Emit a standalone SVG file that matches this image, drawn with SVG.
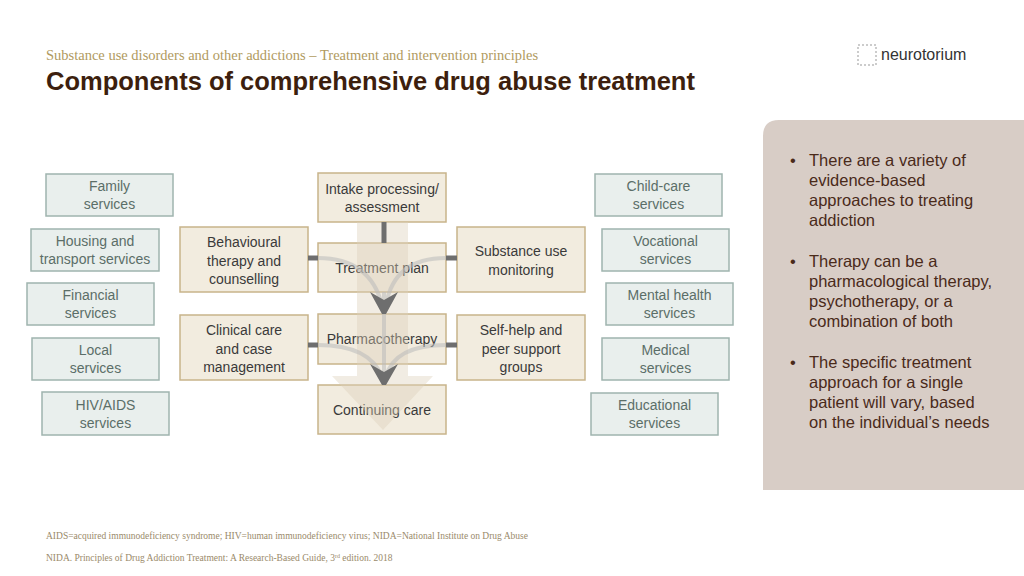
<svg xmlns="http://www.w3.org/2000/svg" width="1024" height="576" viewBox="0 0 1024 576">
<style>
.t{font-family:"Liberation Sans",Arial,sans-serif;fill:#3a3a3a;font-size:14px;text-anchor:middle}
.c rect{fill:#f2ecdf;stroke:#c8b48a;stroke-width:1.5}
.o rect{fill:#e9efed;stroke:#9fb4ae;stroke-width:1.5}
.o text{fill:#5b6e68}
.b{font-family:"Liberation Sans",Arial,sans-serif;fill:#4a2a1a;font-size:16.5px}
</style>
<rect width="1024" height="576" fill="#fff"/>
<text x="46" y="60" font-family="Liberation Serif,serif" font-size="14.5" fill="#b09a60">Substance use disorders and other addictions – Treatment and intervention  principles</text>
<text x="46" y="90" font-family="Liberation Sans,Arial,sans-serif" font-size="25.5" font-weight="bold" fill="#3d1f0e">Components of comprehensive drug abuse treatment</text>
<g id="logo"><rect x="858" y="45" width="18" height="20" fill="none" stroke="#999" stroke-dasharray="2 2"/><text x="881" y="60" font-family="Liberation Sans,Arial,sans-serif" font-size="16" fill="#333">neurotorium</text></g>
<path d="M763 120 H1024 V490 H763 V136 Q763 120 779 120 Z" fill="#d8cdc6"/>
<g class="b">
<text x="790" y="166">•</text><text x="809" y="166">There are a variety of</text><text x="809" y="186">evidence-based</text><text x="809" y="206">approaches to treating</text><text x="809" y="226">addiction</text>
<text x="790" y="267">•</text><text x="809" y="267">Therapy can be a</text><text x="809" y="287">pharmacological therapy,</text><text x="809" y="307">psychotherapy, or a</text><text x="809" y="327">combination of both</text>
<text x="790" y="368">•</text><text x="809" y="368">The specific treatment</text><text x="809" y="388">approach for a single</text><text x="809" y="408">patient will vary, based</text><text x="809" y="428">on the individual’s needs</text>
</g>
<g id="outer-left" class="o">
<g id="family"><rect x="46" y="174" width="127" height="42"/><text class="t" x="109.5" y="191">Family</text><text class="t" x="109.5" y="209">services</text></g>
<g id="housing"><rect x="31" y="229" width="128" height="42"/><text class="t" x="95" y="246">Housing and</text><text class="t" x="95" y="264">transport services</text></g>
<g id="financial"><rect x="27" y="283" width="127" height="42"/><text class="t" x="90.5" y="300">Financial</text><text class="t" x="90.5" y="318">services</text></g>
<g id="local"><rect x="32" y="338" width="127" height="42"/><text class="t" x="95.5" y="355">Local</text><text class="t" x="95.5" y="373">services</text></g>
<g id="hiv"><rect x="42" y="392" width="127" height="43"/><text class="t" x="105.5" y="410">HIV/AIDS</text><text class="t" x="105.5" y="428">services</text></g>
</g>
<g id="outer-right" class="o">
<g id="childcare"><rect x="595" y="174" width="127" height="42"/><text class="t" x="658.5" y="191">Child-care</text><text class="t" x="658.5" y="209">services</text></g>
<g id="vocational"><rect x="602" y="229" width="127" height="42"/><text class="t" x="665.5" y="246">Vocational</text><text class="t" x="665.5" y="264">services</text></g>
<g id="mental"><rect x="606" y="283" width="127" height="42"/><text class="t" x="669.5" y="300">Mental health</text><text class="t" x="669.5" y="318">services</text></g>
<g id="medical"><rect x="602" y="338" width="127" height="42"/><text class="t" x="665.5" y="355">Medical</text><text class="t" x="665.5" y="373">services</text></g>
<g id="educational"><rect x="591" y="393" width="127" height="42"/><text class="t" x="654.5" y="410">Educational</text><text class="t" x="654.5" y="428">services</text></g>
</g>
<g id="center" class="c">
<g id="intake"><rect x="318" y="173" width="128" height="49"/><text class="t" x="382" y="194">Intake processing/</text><text class="t" x="382" y="212">assessment</text></g>
<g id="plan"><rect x="318" y="243" width="128" height="49"/><text class="t" x="382" y="273">Treatment plan</text></g>
<g id="pharma"><rect x="318" y="314" width="128" height="50"/><text class="t" x="382" y="344">Pharmacotherapy</text></g>
<g id="continuing"><rect x="318" y="385" width="128" height="49"/><text class="t" x="382" y="415">Continuing care</text></g>
<g id="behav"><rect x="180" y="227" width="128" height="65"/><text class="t" x="244" y="247">Behavioural</text><text class="t" x="244" y="266">therapy and</text><text class="t" x="244" y="284">counselling</text></g>
<g id="clinical"><rect x="180" y="315" width="128" height="65"/><text class="t" x="244" y="335">Clinical care</text><text class="t" x="244" y="354">and case</text><text class="t" x="244" y="372">management</text></g>
<g id="substance"><rect x="457" y="227" width="128" height="65"/><text class="t" x="521" y="256">Substance use</text><text class="t" x="521" y="275">monitoring</text></g>
<g id="selfhelp"><rect x="457" y="315" width="128" height="65"/><text class="t" x="521" y="335">Self-help and</text><text class="t" x="521" y="354">peer support</text><text class="t" x="521" y="372">groups</text></g>
</g>
<g id="connectors">
<path d="M357 222 H408 V376 H433 L383 430 L332 376 H357 Z" fill="#dcd0b8" opacity="0.4"/>
<g fill="none" stroke="#6e6e6e" stroke-width="5">
<path d="M384 222 V243"/>
<path d="M308 258 H318"/><path d="M446 258 H457"/>
<path d="M308 345 H318"/><path d="M446 345 H457"/>
</g>
<g fill="none" stroke="#bbb" stroke-width="4" opacity="0.55">
<path d="M318 258 Q370 258 382 305"/><path d="M446 258 Q394 258 386 305"/>
<path d="M318 345 Q370 345 382 377"/><path d="M446 345 Q394 345 386 377"/>
<path d="M384 292 V380"/>
</g>
<g fill="#6e6e6e">
<path d="M370 292 L384 300 L398 292 L386 314 H382 Z"/>
<path d="M370 364 L384 372 L398 364 L386 385 H382 Z"/>
</g>
</g>
<text x="46" y="539" font-family="Liberation Serif,serif" font-size="9.5" fill="#9a8a6a">AIDS=acquired immunodeficiency  syndrome; HIV=human immunodeficiency  virus; NIDA=National Institute on Drug Abuse</text>
<text x="46" y="561" font-family="Liberation Serif,serif" font-size="9.5" fill="#9a8a6a">NIDA. Principles of Drug Addiction Treatment: A Research-Based Guide, 3<tspan font-size="6" dy="-3">rd</tspan><tspan dy="3"> edition. 2018</tspan></text>
</svg>
